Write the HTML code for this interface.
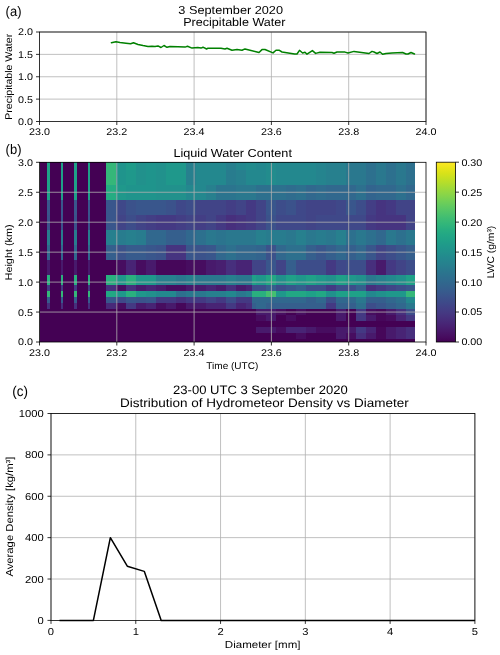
<!DOCTYPE html>
<html><head><meta charset="utf-8"><title>Figure</title>
<style>html,body{margin:0;padding:0;background:#fff;width:500px;height:655px;overflow:hidden}svg{display:block;will-change:transform;text-rendering:geometricPrecision;font-family:"Liberation Sans",sans-serif}</style>
</head><body>
<svg width="500" height="655" viewBox="0 0 500 655" font-family="Liberation Sans, sans-serif"><line x1="39.50" y1="99.12" x2="426.00" y2="99.12" stroke="#b0b0b0" stroke-width="0.80" />
<line x1="39.50" y1="76.75" x2="426.00" y2="76.75" stroke="#b0b0b0" stroke-width="0.80" />
<line x1="39.50" y1="54.38" x2="426.00" y2="54.38" stroke="#b0b0b0" stroke-width="0.80" />
<line x1="39.50" y1="32.00" x2="426.00" y2="32.00" stroke="#b0b0b0" stroke-width="0.80" />
<line x1="116.80" y1="32.00" x2="116.80" y2="121.50" stroke="#b0b0b0" stroke-width="0.80" />
<line x1="194.10" y1="32.00" x2="194.10" y2="121.50" stroke="#b0b0b0" stroke-width="0.80" />
<line x1="271.40" y1="32.00" x2="271.40" y2="121.50" stroke="#b0b0b0" stroke-width="0.80" />
<line x1="348.70" y1="32.00" x2="348.70" y2="121.50" stroke="#b0b0b0" stroke-width="0.80" />
<line x1="426.00" y1="32.00" x2="426.00" y2="121.50" stroke="#b0b0b0" stroke-width="0.80" />
<polyline fill="none" stroke="#008000" stroke-width="1.5" stroke-linejoin="round" stroke-linecap="round" points="111.4,42.7 115.9,41.7 120.0,42.6 126.0,43.3 130.6,43.8 133.5,42.8 138.0,44.5 143.0,45.6 148.0,46.5 152.0,46.2 155.0,46.4 158.0,45.9 161.0,47.5 164.0,45.5 167.0,47.3 170.0,46.5 178.0,46.8 185.0,47.1 187.5,46.3 192.0,48.1 197.8,47.6 201.0,48.1 203.0,47.2 206.6,49.0 208.0,48.2 221.0,48.2 225.0,49.0 227.0,48.2 232.0,50.2 237.0,49.6 242.0,50.3 245.0,48.9 259.0,52.5 262.0,49.6 265.0,49.5 273.0,52.9 276.0,50.2 279.0,50.2 282.0,52.0 294.6,54.0 297.0,54.0 299.5,50.3 302.6,53.0 305.0,52.3 307.0,54.2 312.4,50.6 315.6,53.4 320.0,52.2 332.0,52.5 334.0,53.3 337.0,52.0 345.0,52.1 348.0,53.0 354.0,51.4 369.0,53.5 372.0,51.4 374.0,52.0 377.0,53.5 380.0,52.0 382.6,54.3 386.0,53.4 392.0,52.9 402.6,52.5 406.0,54.0 408.0,54.0 411.0,52.5 414.5,54.0"/>
<rect x="39.50" y="32.00" width="386.50" height="89.50" fill="none" stroke="#000" stroke-width="0.8"/>
<line x1="36.00" y1="121.50" x2="39.50" y2="121.50" stroke="#000" stroke-width="0.80" />
<text x="32.90" y="124.95" font-size="9.78" text-anchor="end" textLength="14.95" lengthAdjust="spacingAndGlyphs" fill="#000" >0.0</text>
<line x1="36.00" y1="99.12" x2="39.50" y2="99.12" stroke="#000" stroke-width="0.80" />
<text x="32.90" y="102.58" font-size="9.78" text-anchor="end" textLength="14.95" lengthAdjust="spacingAndGlyphs" fill="#000" >0.5</text>
<line x1="36.00" y1="76.75" x2="39.50" y2="76.75" stroke="#000" stroke-width="0.80" />
<text x="32.90" y="80.20" font-size="9.78" text-anchor="end" textLength="14.95" lengthAdjust="spacingAndGlyphs" fill="#000" >1.0</text>
<line x1="36.00" y1="54.38" x2="39.50" y2="54.38" stroke="#000" stroke-width="0.80" />
<text x="32.90" y="57.83" font-size="9.78" text-anchor="end" textLength="14.95" lengthAdjust="spacingAndGlyphs" fill="#000" >1.5</text>
<line x1="36.00" y1="32.00" x2="39.50" y2="32.00" stroke="#000" stroke-width="0.80" />
<text x="32.90" y="35.45" font-size="9.78" text-anchor="end" textLength="14.95" lengthAdjust="spacingAndGlyphs" fill="#000" >2.0</text>
<line x1="39.50" y1="121.50" x2="39.50" y2="125.00" stroke="#000" stroke-width="0.80" />
<text x="39.50" y="135.00" font-size="9.78" text-anchor="middle" textLength="20.93" lengthAdjust="spacingAndGlyphs" fill="#000" >23.0</text>
<line x1="116.80" y1="121.50" x2="116.80" y2="125.00" stroke="#000" stroke-width="0.80" />
<text x="116.80" y="135.00" font-size="9.78" text-anchor="middle" textLength="20.93" lengthAdjust="spacingAndGlyphs" fill="#000" >23.2</text>
<line x1="194.10" y1="121.50" x2="194.10" y2="125.00" stroke="#000" stroke-width="0.80" />
<text x="194.10" y="135.00" font-size="9.78" text-anchor="middle" textLength="20.93" lengthAdjust="spacingAndGlyphs" fill="#000" >23.4</text>
<line x1="271.40" y1="121.50" x2="271.40" y2="125.00" stroke="#000" stroke-width="0.80" />
<text x="271.40" y="135.00" font-size="9.78" text-anchor="middle" textLength="20.93" lengthAdjust="spacingAndGlyphs" fill="#000" >23.6</text>
<line x1="348.70" y1="121.50" x2="348.70" y2="125.00" stroke="#000" stroke-width="0.80" />
<text x="348.70" y="135.00" font-size="9.78" text-anchor="middle" textLength="20.93" lengthAdjust="spacingAndGlyphs" fill="#000" >23.8</text>
<line x1="426.00" y1="121.50" x2="426.00" y2="125.00" stroke="#000" stroke-width="0.80" />
<text x="426.00" y="135.00" font-size="9.78" text-anchor="middle" textLength="20.93" lengthAdjust="spacingAndGlyphs" fill="#000" >24.0</text>
<text x="12.10" y="76.80" font-size="9.78" text-anchor="middle" textLength="85.89" lengthAdjust="spacingAndGlyphs" transform="rotate(-90 12.10 76.80)" fill="#000" >Precipitable Water</text>
<text x="230.70" y="13.80" font-size="11.65" text-anchor="middle" textLength="104.66" lengthAdjust="spacingAndGlyphs" fill="#000" >3 September 2020</text>
<text x="234.35" y="26.00" font-size="11.65" text-anchor="middle" textLength="102.33" lengthAdjust="spacingAndGlyphs" fill="#000" >Precipitable Water</text>
<text x="5.6" y="15.9" font-size="13.8" textLength="15.89" lengthAdjust="spacingAndGlyphs">(a)</text>
<g shape-rendering="crispEdges">
<rect x="39.50" y="162.30" width="375.50" height="179.70" fill="#440154"/>
<rect x="47.20" y="162.30" width="2.70" height="7.49" fill="#1fa188"/>
<rect x="47.20" y="169.79" width="2.70" height="14.98" fill="#1fa188"/>
<rect x="47.20" y="184.76" width="2.70" height="14.97" fill="#1fa188"/>
<rect x="47.20" y="199.74" width="2.70" height="14.97" fill="#39568c"/>
<rect x="47.20" y="214.71" width="2.70" height="14.97" fill="#3b528b"/>
<rect x="47.20" y="229.69" width="2.70" height="14.98" fill="#287c8e"/>
<rect x="47.20" y="244.66" width="2.70" height="14.97" fill="#31688e"/>
<rect x="47.20" y="259.64" width="2.70" height="14.98" fill="#481a6c"/>
<rect x="47.20" y="274.61" width="2.70" height="10.48" fill="#2ab07f"/>
<rect x="47.20" y="285.10" width="2.70" height="5.99" fill="#443983"/>
<rect x="47.20" y="291.08" width="2.70" height="5.99" fill="#35b779"/>
<rect x="47.20" y="297.07" width="2.70" height="5.99" fill="#375b8d"/>
<rect x="47.20" y="303.06" width="2.70" height="5.99" fill="#472f7d"/>
<rect x="60.70" y="162.30" width="2.60" height="7.49" fill="#1fa188"/>
<rect x="60.70" y="169.79" width="2.60" height="14.98" fill="#1fa188"/>
<rect x="60.70" y="184.76" width="2.60" height="14.97" fill="#1fa188"/>
<rect x="60.70" y="199.74" width="2.60" height="14.97" fill="#39568c"/>
<rect x="60.70" y="214.71" width="2.60" height="14.97" fill="#3b528b"/>
<rect x="60.70" y="229.69" width="2.60" height="14.98" fill="#287c8e"/>
<rect x="60.70" y="244.66" width="2.60" height="14.97" fill="#31688e"/>
<rect x="60.70" y="259.64" width="2.60" height="14.98" fill="#481a6c"/>
<rect x="60.70" y="274.61" width="2.60" height="10.48" fill="#2ab07f"/>
<rect x="60.70" y="285.10" width="2.60" height="5.99" fill="#443983"/>
<rect x="60.70" y="291.08" width="2.60" height="5.99" fill="#35b779"/>
<rect x="60.70" y="297.07" width="2.60" height="5.99" fill="#375b8d"/>
<rect x="60.70" y="303.06" width="2.60" height="5.99" fill="#472f7d"/>
<rect x="74.00" y="162.30" width="3.00" height="7.49" fill="#1fa188"/>
<rect x="74.00" y="169.79" width="3.00" height="14.98" fill="#1fa188"/>
<rect x="74.00" y="184.76" width="3.00" height="14.97" fill="#1fa188"/>
<rect x="74.00" y="199.74" width="3.00" height="14.97" fill="#39568c"/>
<rect x="74.00" y="214.71" width="3.00" height="14.97" fill="#3b528b"/>
<rect x="74.00" y="229.69" width="3.00" height="14.98" fill="#287c8e"/>
<rect x="74.00" y="244.66" width="3.00" height="14.97" fill="#31688e"/>
<rect x="74.00" y="259.64" width="3.00" height="14.98" fill="#481a6c"/>
<rect x="74.00" y="274.61" width="3.00" height="10.48" fill="#2ab07f"/>
<rect x="74.00" y="285.10" width="3.00" height="5.99" fill="#443983"/>
<rect x="74.00" y="291.08" width="3.00" height="5.99" fill="#35b779"/>
<rect x="74.00" y="297.07" width="3.00" height="5.99" fill="#375b8d"/>
<rect x="74.00" y="303.06" width="3.00" height="5.99" fill="#472f7d"/>
<rect x="87.50" y="162.30" width="2.60" height="7.49" fill="#1fa188"/>
<rect x="87.50" y="169.79" width="2.60" height="14.98" fill="#1fa188"/>
<rect x="87.50" y="184.76" width="2.60" height="14.97" fill="#1fa188"/>
<rect x="87.50" y="199.74" width="2.60" height="14.97" fill="#39568c"/>
<rect x="87.50" y="214.71" width="2.60" height="14.97" fill="#3b528b"/>
<rect x="87.50" y="229.69" width="2.60" height="14.98" fill="#287c8e"/>
<rect x="87.50" y="244.66" width="2.60" height="14.97" fill="#31688e"/>
<rect x="87.50" y="259.64" width="2.60" height="14.98" fill="#481a6c"/>
<rect x="87.50" y="274.61" width="2.60" height="10.48" fill="#2ab07f"/>
<rect x="87.50" y="285.10" width="2.60" height="5.99" fill="#443983"/>
<rect x="87.50" y="291.08" width="2.60" height="5.99" fill="#35b779"/>
<rect x="87.50" y="297.07" width="2.60" height="5.99" fill="#375b8d"/>
<rect x="87.50" y="303.06" width="2.60" height="5.99" fill="#472f7d"/>
<rect x="106.00" y="162.30" width="10.00" height="7.49" fill="#35b779"/>
<rect x="116.00" y="162.30" width="10.00" height="7.49" fill="#1f948c"/>
<rect x="126.00" y="162.30" width="10.00" height="7.49" fill="#1e9c89"/>
<rect x="136.00" y="162.30" width="10.00" height="7.49" fill="#21918c"/>
<rect x="146.00" y="162.30" width="10.00" height="7.49" fill="#1f948c"/>
<rect x="156.00" y="162.30" width="10.00" height="7.49" fill="#21918c"/>
<rect x="166.00" y="162.30" width="10.00" height="7.49" fill="#1f988b"/>
<rect x="176.00" y="162.30" width="10.00" height="7.49" fill="#1f988b"/>
<rect x="186.00" y="162.30" width="10.00" height="7.49" fill="#27808e"/>
<rect x="196.00" y="162.30" width="10.00" height="7.49" fill="#23888e"/>
<rect x="206.00" y="162.30" width="10.00" height="7.49" fill="#23888e"/>
<rect x="216.00" y="162.30" width="10.00" height="7.49" fill="#23888e"/>
<rect x="226.00" y="162.30" width="10.00" height="7.49" fill="#27808e"/>
<rect x="236.00" y="162.30" width="10.00" height="7.49" fill="#23888e"/>
<rect x="246.00" y="162.30" width="10.00" height="7.49" fill="#228c8d"/>
<rect x="256.00" y="162.30" width="10.00" height="7.49" fill="#23888e"/>
<rect x="266.00" y="162.30" width="10.00" height="7.49" fill="#228c8d"/>
<rect x="276.00" y="162.30" width="10.00" height="7.49" fill="#23888e"/>
<rect x="286.00" y="162.30" width="10.00" height="7.49" fill="#23888e"/>
<rect x="296.00" y="162.30" width="10.00" height="7.49" fill="#23888e"/>
<rect x="306.00" y="162.30" width="10.00" height="7.49" fill="#23888e"/>
<rect x="316.00" y="162.30" width="10.00" height="7.49" fill="#25848e"/>
<rect x="326.00" y="162.30" width="10.00" height="7.49" fill="#27808e"/>
<rect x="336.00" y="162.30" width="10.00" height="7.49" fill="#27808e"/>
<rect x="346.00" y="162.30" width="10.00" height="7.49" fill="#2a788e"/>
<rect x="356.00" y="162.30" width="10.00" height="7.49" fill="#2a788e"/>
<rect x="366.00" y="162.30" width="10.00" height="7.49" fill="#2d708e"/>
<rect x="376.00" y="162.30" width="10.00" height="7.49" fill="#2a788e"/>
<rect x="386.00" y="162.30" width="10.00" height="7.49" fill="#2d708e"/>
<rect x="396.00" y="162.30" width="10.00" height="7.49" fill="#2a788e"/>
<rect x="406.00" y="162.30" width="9.00" height="7.49" fill="#2d708e"/>
<rect x="106.00" y="169.79" width="10.00" height="14.98" fill="#35b779"/>
<rect x="116.00" y="169.79" width="10.00" height="14.98" fill="#1f948c"/>
<rect x="126.00" y="169.79" width="10.00" height="14.98" fill="#1f988b"/>
<rect x="136.00" y="169.79" width="10.00" height="14.98" fill="#21918c"/>
<rect x="146.00" y="169.79" width="10.00" height="14.98" fill="#1f948c"/>
<rect x="156.00" y="169.79" width="10.00" height="14.98" fill="#21918c"/>
<rect x="166.00" y="169.79" width="10.00" height="14.98" fill="#1f988b"/>
<rect x="176.00" y="169.79" width="10.00" height="14.98" fill="#1f988b"/>
<rect x="186.00" y="169.79" width="10.00" height="14.98" fill="#27808e"/>
<rect x="196.00" y="169.79" width="10.00" height="14.98" fill="#23888e"/>
<rect x="206.00" y="169.79" width="10.00" height="14.98" fill="#23888e"/>
<rect x="216.00" y="169.79" width="10.00" height="14.98" fill="#23888e"/>
<rect x="226.00" y="169.79" width="10.00" height="14.98" fill="#287c8e"/>
<rect x="236.00" y="169.79" width="10.00" height="14.98" fill="#27808e"/>
<rect x="246.00" y="169.79" width="10.00" height="14.98" fill="#23888e"/>
<rect x="256.00" y="169.79" width="10.00" height="14.98" fill="#23888e"/>
<rect x="266.00" y="169.79" width="10.00" height="14.98" fill="#228c8d"/>
<rect x="276.00" y="169.79" width="10.00" height="14.98" fill="#23888e"/>
<rect x="286.00" y="169.79" width="10.00" height="14.98" fill="#23888e"/>
<rect x="296.00" y="169.79" width="10.00" height="14.98" fill="#23888e"/>
<rect x="306.00" y="169.79" width="10.00" height="14.98" fill="#23888e"/>
<rect x="316.00" y="169.79" width="10.00" height="14.98" fill="#25848e"/>
<rect x="326.00" y="169.79" width="10.00" height="14.98" fill="#27808e"/>
<rect x="336.00" y="169.79" width="10.00" height="14.98" fill="#27808e"/>
<rect x="346.00" y="169.79" width="10.00" height="14.98" fill="#2a788e"/>
<rect x="356.00" y="169.79" width="10.00" height="14.98" fill="#2a788e"/>
<rect x="366.00" y="169.79" width="10.00" height="14.98" fill="#2d708e"/>
<rect x="376.00" y="169.79" width="10.00" height="14.98" fill="#2a788e"/>
<rect x="386.00" y="169.79" width="10.00" height="14.98" fill="#2d708e"/>
<rect x="396.00" y="169.79" width="10.00" height="14.98" fill="#2a788e"/>
<rect x="406.00" y="169.79" width="9.00" height="14.98" fill="#2d708e"/>
<rect x="106.00" y="184.76" width="10.00" height="14.97" fill="#25ac82"/>
<rect x="116.00" y="184.76" width="10.00" height="14.97" fill="#1f988b"/>
<rect x="126.00" y="184.76" width="10.00" height="14.97" fill="#1f948c"/>
<rect x="136.00" y="184.76" width="10.00" height="14.97" fill="#1f948c"/>
<rect x="146.00" y="184.76" width="10.00" height="14.97" fill="#1f948c"/>
<rect x="156.00" y="184.76" width="10.00" height="14.97" fill="#21918c"/>
<rect x="166.00" y="184.76" width="10.00" height="14.97" fill="#21918c"/>
<rect x="176.00" y="184.76" width="10.00" height="14.97" fill="#21918c"/>
<rect x="186.00" y="184.76" width="10.00" height="14.97" fill="#23888e"/>
<rect x="196.00" y="184.76" width="10.00" height="14.97" fill="#23888e"/>
<rect x="206.00" y="184.76" width="10.00" height="14.97" fill="#27808e"/>
<rect x="216.00" y="184.76" width="10.00" height="14.97" fill="#2b748e"/>
<rect x="226.00" y="184.76" width="10.00" height="14.97" fill="#2b748e"/>
<rect x="236.00" y="184.76" width="10.00" height="14.97" fill="#2a788e"/>
<rect x="246.00" y="184.76" width="10.00" height="14.97" fill="#2a788e"/>
<rect x="256.00" y="184.76" width="10.00" height="14.97" fill="#2d708e"/>
<rect x="266.00" y="184.76" width="10.00" height="14.97" fill="#2d708e"/>
<rect x="276.00" y="184.76" width="10.00" height="14.97" fill="#2d708e"/>
<rect x="286.00" y="184.76" width="10.00" height="14.97" fill="#2f6c8e"/>
<rect x="296.00" y="184.76" width="10.00" height="14.97" fill="#2d708e"/>
<rect x="306.00" y="184.76" width="10.00" height="14.97" fill="#31688e"/>
<rect x="316.00" y="184.76" width="10.00" height="14.97" fill="#2f6c8e"/>
<rect x="326.00" y="184.76" width="10.00" height="14.97" fill="#31688e"/>
<rect x="336.00" y="184.76" width="10.00" height="14.97" fill="#31688e"/>
<rect x="346.00" y="184.76" width="10.00" height="14.97" fill="#31688e"/>
<rect x="356.00" y="184.76" width="10.00" height="14.97" fill="#2d708e"/>
<rect x="366.00" y="184.76" width="10.00" height="14.97" fill="#32648e"/>
<rect x="376.00" y="184.76" width="10.00" height="14.97" fill="#31688e"/>
<rect x="386.00" y="184.76" width="10.00" height="14.97" fill="#31688e"/>
<rect x="396.00" y="184.76" width="10.00" height="14.97" fill="#2d708e"/>
<rect x="406.00" y="184.76" width="9.00" height="14.97" fill="#31688e"/>
<rect x="106.00" y="199.74" width="10.00" height="14.97" fill="#39568c"/>
<rect x="116.00" y="199.74" width="10.00" height="14.97" fill="#3f4889"/>
<rect x="126.00" y="199.74" width="10.00" height="14.97" fill="#3b528b"/>
<rect x="136.00" y="199.74" width="10.00" height="14.97" fill="#39568c"/>
<rect x="146.00" y="199.74" width="10.00" height="14.97" fill="#39568c"/>
<rect x="156.00" y="199.74" width="10.00" height="14.97" fill="#39568c"/>
<rect x="166.00" y="199.74" width="10.00" height="14.97" fill="#3b528b"/>
<rect x="176.00" y="199.74" width="10.00" height="14.97" fill="#3f4889"/>
<rect x="186.00" y="199.74" width="10.00" height="14.97" fill="#3d4d8a"/>
<rect x="196.00" y="199.74" width="10.00" height="14.97" fill="#414487"/>
<rect x="206.00" y="199.74" width="10.00" height="14.97" fill="#414487"/>
<rect x="216.00" y="199.74" width="10.00" height="14.97" fill="#414487"/>
<rect x="226.00" y="199.74" width="10.00" height="14.97" fill="#433e85"/>
<rect x="236.00" y="199.74" width="10.00" height="14.97" fill="#414487"/>
<rect x="246.00" y="199.74" width="10.00" height="14.97" fill="#443983"/>
<rect x="256.00" y="199.74" width="10.00" height="14.97" fill="#414487"/>
<rect x="266.00" y="199.74" width="10.00" height="14.97" fill="#39568c"/>
<rect x="276.00" y="199.74" width="10.00" height="14.97" fill="#3d4d8a"/>
<rect x="286.00" y="199.74" width="10.00" height="14.97" fill="#3b528b"/>
<rect x="296.00" y="199.74" width="10.00" height="14.97" fill="#3f4889"/>
<rect x="306.00" y="199.74" width="10.00" height="14.97" fill="#414487"/>
<rect x="316.00" y="199.74" width="10.00" height="14.97" fill="#414487"/>
<rect x="326.00" y="199.74" width="10.00" height="14.97" fill="#414487"/>
<rect x="336.00" y="199.74" width="10.00" height="14.97" fill="#3f4889"/>
<rect x="346.00" y="199.74" width="10.00" height="14.97" fill="#39568c"/>
<rect x="356.00" y="199.74" width="10.00" height="14.97" fill="#3d4d8a"/>
<rect x="366.00" y="199.74" width="10.00" height="14.97" fill="#433e85"/>
<rect x="376.00" y="199.74" width="10.00" height="14.97" fill="#463480"/>
<rect x="386.00" y="199.74" width="10.00" height="14.97" fill="#443983"/>
<rect x="396.00" y="199.74" width="10.00" height="14.97" fill="#414487"/>
<rect x="406.00" y="199.74" width="9.00" height="14.97" fill="#414487"/>
<rect x="106.00" y="214.71" width="10.00" height="14.97" fill="#39568c"/>
<rect x="116.00" y="214.71" width="10.00" height="14.97" fill="#414487"/>
<rect x="126.00" y="214.71" width="10.00" height="14.97" fill="#3d4d8a"/>
<rect x="136.00" y="214.71" width="10.00" height="14.97" fill="#414487"/>
<rect x="146.00" y="214.71" width="10.00" height="14.97" fill="#433e85"/>
<rect x="156.00" y="214.71" width="10.00" height="14.97" fill="#443983"/>
<rect x="166.00" y="214.71" width="10.00" height="14.97" fill="#443983"/>
<rect x="176.00" y="214.71" width="10.00" height="14.97" fill="#433e85"/>
<rect x="186.00" y="214.71" width="10.00" height="14.97" fill="#414487"/>
<rect x="196.00" y="214.71" width="10.00" height="14.97" fill="#433e85"/>
<rect x="206.00" y="214.71" width="10.00" height="14.97" fill="#414487"/>
<rect x="216.00" y="214.71" width="10.00" height="14.97" fill="#443983"/>
<rect x="226.00" y="214.71" width="10.00" height="14.97" fill="#472f7d"/>
<rect x="236.00" y="214.71" width="10.00" height="14.97" fill="#463480"/>
<rect x="246.00" y="214.71" width="10.00" height="14.97" fill="#443983"/>
<rect x="256.00" y="214.71" width="10.00" height="14.97" fill="#414487"/>
<rect x="266.00" y="214.71" width="10.00" height="14.97" fill="#3b528b"/>
<rect x="276.00" y="214.71" width="10.00" height="14.97" fill="#3f4889"/>
<rect x="286.00" y="214.71" width="10.00" height="14.97" fill="#3f4889"/>
<rect x="296.00" y="214.71" width="10.00" height="14.97" fill="#3f4889"/>
<rect x="306.00" y="214.71" width="10.00" height="14.97" fill="#414487"/>
<rect x="316.00" y="214.71" width="10.00" height="14.97" fill="#3f4889"/>
<rect x="326.00" y="214.71" width="10.00" height="14.97" fill="#3f4889"/>
<rect x="336.00" y="214.71" width="10.00" height="14.97" fill="#3f4889"/>
<rect x="346.00" y="214.71" width="10.00" height="14.97" fill="#3f4889"/>
<rect x="356.00" y="214.71" width="10.00" height="14.97" fill="#3f4889"/>
<rect x="366.00" y="214.71" width="10.00" height="14.97" fill="#443983"/>
<rect x="376.00" y="214.71" width="10.00" height="14.97" fill="#463480"/>
<rect x="386.00" y="214.71" width="10.00" height="14.97" fill="#463480"/>
<rect x="396.00" y="214.71" width="10.00" height="14.97" fill="#463480"/>
<rect x="406.00" y="214.71" width="9.00" height="14.97" fill="#414487"/>
<rect x="106.00" y="229.69" width="10.00" height="14.98" fill="#27808e"/>
<rect x="116.00" y="229.69" width="10.00" height="14.98" fill="#287c8e"/>
<rect x="126.00" y="229.69" width="10.00" height="14.98" fill="#27808e"/>
<rect x="136.00" y="229.69" width="10.00" height="14.98" fill="#287c8e"/>
<rect x="146.00" y="229.69" width="10.00" height="14.98" fill="#31688e"/>
<rect x="156.00" y="229.69" width="10.00" height="14.98" fill="#31688e"/>
<rect x="166.00" y="229.69" width="10.00" height="14.98" fill="#355f8d"/>
<rect x="176.00" y="229.69" width="10.00" height="14.98" fill="#355f8d"/>
<rect x="186.00" y="229.69" width="10.00" height="14.98" fill="#31688e"/>
<rect x="196.00" y="229.69" width="10.00" height="14.98" fill="#2d708e"/>
<rect x="206.00" y="229.69" width="10.00" height="14.98" fill="#2a788e"/>
<rect x="216.00" y="229.69" width="10.00" height="14.98" fill="#2b748e"/>
<rect x="226.00" y="229.69" width="10.00" height="14.98" fill="#2a788e"/>
<rect x="236.00" y="229.69" width="10.00" height="14.98" fill="#2a788e"/>
<rect x="246.00" y="229.69" width="10.00" height="14.98" fill="#2a788e"/>
<rect x="256.00" y="229.69" width="10.00" height="14.98" fill="#27808e"/>
<rect x="266.00" y="229.69" width="10.00" height="14.98" fill="#287c8e"/>
<rect x="276.00" y="229.69" width="10.00" height="14.98" fill="#287c8e"/>
<rect x="286.00" y="229.69" width="10.00" height="14.98" fill="#2a788e"/>
<rect x="296.00" y="229.69" width="10.00" height="14.98" fill="#27808e"/>
<rect x="306.00" y="229.69" width="10.00" height="14.98" fill="#2a788e"/>
<rect x="316.00" y="229.69" width="10.00" height="14.98" fill="#287c8e"/>
<rect x="326.00" y="229.69" width="10.00" height="14.98" fill="#2a788e"/>
<rect x="336.00" y="229.69" width="10.00" height="14.98" fill="#27808e"/>
<rect x="346.00" y="229.69" width="10.00" height="14.98" fill="#2d708e"/>
<rect x="356.00" y="229.69" width="10.00" height="14.98" fill="#2a788e"/>
<rect x="366.00" y="229.69" width="10.00" height="14.98" fill="#2d708e"/>
<rect x="376.00" y="229.69" width="10.00" height="14.98" fill="#31688e"/>
<rect x="386.00" y="229.69" width="10.00" height="14.98" fill="#2a788e"/>
<rect x="396.00" y="229.69" width="10.00" height="14.98" fill="#2d708e"/>
<rect x="406.00" y="229.69" width="9.00" height="14.98" fill="#2a788e"/>
<rect x="106.00" y="244.66" width="10.00" height="14.97" fill="#355f8d"/>
<rect x="116.00" y="244.66" width="10.00" height="14.97" fill="#3b528b"/>
<rect x="126.00" y="244.66" width="10.00" height="14.97" fill="#375b8d"/>
<rect x="136.00" y="244.66" width="10.00" height="14.97" fill="#375b8d"/>
<rect x="146.00" y="244.66" width="10.00" height="14.97" fill="#39568c"/>
<rect x="156.00" y="244.66" width="10.00" height="14.97" fill="#3b528b"/>
<rect x="166.00" y="244.66" width="10.00" height="14.97" fill="#463480"/>
<rect x="176.00" y="244.66" width="10.00" height="14.97" fill="#463480"/>
<rect x="186.00" y="244.66" width="10.00" height="14.97" fill="#39568c"/>
<rect x="196.00" y="244.66" width="10.00" height="14.97" fill="#3b528b"/>
<rect x="206.00" y="244.66" width="10.00" height="14.97" fill="#39568c"/>
<rect x="216.00" y="244.66" width="10.00" height="14.97" fill="#31688e"/>
<rect x="226.00" y="244.66" width="10.00" height="14.97" fill="#2d708e"/>
<rect x="236.00" y="244.66" width="10.00" height="14.97" fill="#31688e"/>
<rect x="246.00" y="244.66" width="10.00" height="14.97" fill="#31688e"/>
<rect x="256.00" y="244.66" width="10.00" height="14.97" fill="#32648e"/>
<rect x="266.00" y="244.66" width="10.00" height="14.97" fill="#3b528b"/>
<rect x="276.00" y="244.66" width="10.00" height="14.97" fill="#31688e"/>
<rect x="286.00" y="244.66" width="10.00" height="14.97" fill="#2d708e"/>
<rect x="296.00" y="244.66" width="10.00" height="14.97" fill="#2d708e"/>
<rect x="306.00" y="244.66" width="10.00" height="14.97" fill="#355f8d"/>
<rect x="316.00" y="244.66" width="10.00" height="14.97" fill="#39568c"/>
<rect x="326.00" y="244.66" width="10.00" height="14.97" fill="#355f8d"/>
<rect x="336.00" y="244.66" width="10.00" height="14.97" fill="#31688e"/>
<rect x="346.00" y="244.66" width="10.00" height="14.97" fill="#355f8d"/>
<rect x="356.00" y="244.66" width="10.00" height="14.97" fill="#31688e"/>
<rect x="366.00" y="244.66" width="10.00" height="14.97" fill="#39568c"/>
<rect x="376.00" y="244.66" width="10.00" height="14.97" fill="#414487"/>
<rect x="386.00" y="244.66" width="10.00" height="14.97" fill="#3d4d8a"/>
<rect x="396.00" y="244.66" width="10.00" height="14.97" fill="#39568c"/>
<rect x="406.00" y="244.66" width="9.00" height="14.97" fill="#355f8d"/>
<rect x="116.00" y="259.64" width="10.00" height="14.98" fill="#470d60"/>
<rect x="126.00" y="259.64" width="10.00" height="14.98" fill="#482475"/>
<rect x="136.00" y="259.64" width="10.00" height="14.98" fill="#470d60"/>
<rect x="146.00" y="259.64" width="10.00" height="14.98" fill="#481a6c"/>
<rect x="156.00" y="259.64" width="10.00" height="14.98" fill="#46075a"/>
<rect x="166.00" y="259.64" width="10.00" height="14.98" fill="#46075a"/>
<rect x="176.00" y="259.64" width="10.00" height="14.98" fill="#46075a"/>
<rect x="186.00" y="259.64" width="10.00" height="14.98" fill="#470d60"/>
<rect x="196.00" y="259.64" width="10.00" height="14.98" fill="#470d60"/>
<rect x="206.00" y="259.64" width="10.00" height="14.98" fill="#481a6c"/>
<rect x="216.00" y="259.64" width="10.00" height="14.98" fill="#481f70"/>
<rect x="226.00" y="259.64" width="10.00" height="14.98" fill="#472f7d"/>
<rect x="236.00" y="259.64" width="10.00" height="14.98" fill="#482475"/>
<rect x="246.00" y="259.64" width="10.00" height="14.98" fill="#463480"/>
<rect x="256.00" y="259.64" width="10.00" height="14.98" fill="#414487"/>
<rect x="266.00" y="259.64" width="10.00" height="14.98" fill="#39568c"/>
<rect x="276.00" y="259.64" width="10.00" height="14.98" fill="#414487"/>
<rect x="286.00" y="259.64" width="10.00" height="14.98" fill="#355f8d"/>
<rect x="296.00" y="259.64" width="10.00" height="14.98" fill="#3d4d8a"/>
<rect x="306.00" y="259.64" width="10.00" height="14.98" fill="#3d4d8a"/>
<rect x="316.00" y="259.64" width="10.00" height="14.98" fill="#3d4d8a"/>
<rect x="326.00" y="259.64" width="10.00" height="14.98" fill="#443983"/>
<rect x="336.00" y="259.64" width="10.00" height="14.98" fill="#3f4889"/>
<rect x="346.00" y="259.64" width="10.00" height="14.98" fill="#3d4d8a"/>
<rect x="356.00" y="259.64" width="10.00" height="14.98" fill="#3d4d8a"/>
<rect x="366.00" y="259.64" width="10.00" height="14.98" fill="#472f7d"/>
<rect x="376.00" y="259.64" width="10.00" height="14.98" fill="#481a6c"/>
<rect x="386.00" y="259.64" width="10.00" height="14.98" fill="#443983"/>
<rect x="396.00" y="259.64" width="10.00" height="14.98" fill="#414487"/>
<rect x="406.00" y="259.64" width="9.00" height="14.98" fill="#3d4d8a"/>
<rect x="106.00" y="274.61" width="10.00" height="10.48" fill="#2ab07f"/>
<rect x="116.00" y="274.61" width="10.00" height="10.48" fill="#1f988b"/>
<rect x="126.00" y="274.61" width="10.00" height="10.48" fill="#2ab07f"/>
<rect x="136.00" y="274.61" width="10.00" height="10.48" fill="#1f988b"/>
<rect x="146.00" y="274.61" width="10.00" height="10.48" fill="#1f988b"/>
<rect x="156.00" y="274.61" width="10.00" height="10.48" fill="#27808e"/>
<rect x="166.00" y="274.61" width="10.00" height="10.48" fill="#27808e"/>
<rect x="176.00" y="274.61" width="10.00" height="10.48" fill="#2a788e"/>
<rect x="186.00" y="274.61" width="10.00" height="10.48" fill="#27808e"/>
<rect x="196.00" y="274.61" width="10.00" height="10.48" fill="#2a788e"/>
<rect x="206.00" y="274.61" width="10.00" height="10.48" fill="#2a788e"/>
<rect x="216.00" y="274.61" width="10.00" height="10.48" fill="#2a788e"/>
<rect x="226.00" y="274.61" width="10.00" height="10.48" fill="#27808e"/>
<rect x="236.00" y="274.61" width="10.00" height="10.48" fill="#2a788e"/>
<rect x="246.00" y="274.61" width="10.00" height="10.48" fill="#23888e"/>
<rect x="256.00" y="274.61" width="10.00" height="10.48" fill="#1f988b"/>
<rect x="266.00" y="274.61" width="10.00" height="10.48" fill="#22a884"/>
<rect x="276.00" y="274.61" width="10.00" height="10.48" fill="#21918c"/>
<rect x="286.00" y="274.61" width="10.00" height="10.48" fill="#1fa188"/>
<rect x="296.00" y="274.61" width="10.00" height="10.48" fill="#1f988b"/>
<rect x="306.00" y="274.61" width="10.00" height="10.48" fill="#1fa188"/>
<rect x="316.00" y="274.61" width="10.00" height="10.48" fill="#1f988b"/>
<rect x="326.00" y="274.61" width="10.00" height="10.48" fill="#21918c"/>
<rect x="336.00" y="274.61" width="10.00" height="10.48" fill="#1fa188"/>
<rect x="346.00" y="274.61" width="10.00" height="10.48" fill="#1f988b"/>
<rect x="356.00" y="274.61" width="10.00" height="10.48" fill="#21918c"/>
<rect x="366.00" y="274.61" width="10.00" height="10.48" fill="#2a788e"/>
<rect x="376.00" y="274.61" width="10.00" height="10.48" fill="#27808e"/>
<rect x="386.00" y="274.61" width="10.00" height="10.48" fill="#23888e"/>
<rect x="396.00" y="274.61" width="10.00" height="10.48" fill="#21918c"/>
<rect x="406.00" y="274.61" width="9.00" height="10.48" fill="#1fa188"/>
<rect x="106.00" y="285.10" width="10.00" height="5.99" fill="#472f7d"/>
<rect x="116.00" y="285.10" width="10.00" height="5.99" fill="#470d60"/>
<rect x="126.00" y="285.10" width="10.00" height="5.99" fill="#472f7d"/>
<rect x="136.00" y="285.10" width="10.00" height="5.99" fill="#481a6c"/>
<rect x="146.00" y="285.10" width="10.00" height="5.99" fill="#482475"/>
<rect x="156.00" y="285.10" width="10.00" height="5.99" fill="#481a6c"/>
<rect x="166.00" y="285.10" width="10.00" height="5.99" fill="#470d60"/>
<rect x="176.00" y="285.10" width="10.00" height="5.99" fill="#470d60"/>
<rect x="186.00" y="285.10" width="10.00" height="5.99" fill="#481a6c"/>
<rect x="196.00" y="285.10" width="10.00" height="5.99" fill="#481a6c"/>
<rect x="206.00" y="285.10" width="10.00" height="5.99" fill="#482475"/>
<rect x="216.00" y="285.10" width="10.00" height="5.99" fill="#481a6c"/>
<rect x="226.00" y="285.10" width="10.00" height="5.99" fill="#472f7d"/>
<rect x="236.00" y="285.10" width="10.00" height="5.99" fill="#481a6c"/>
<rect x="246.00" y="285.10" width="10.00" height="5.99" fill="#472f7d"/>
<rect x="256.00" y="285.10" width="10.00" height="5.99" fill="#3d4d8a"/>
<rect x="266.00" y="285.10" width="10.00" height="5.99" fill="#355f8d"/>
<rect x="276.00" y="285.10" width="10.00" height="5.99" fill="#3d4d8a"/>
<rect x="286.00" y="285.10" width="10.00" height="5.99" fill="#39568c"/>
<rect x="296.00" y="285.10" width="10.00" height="5.99" fill="#355f8d"/>
<rect x="306.00" y="285.10" width="10.00" height="5.99" fill="#3d4d8a"/>
<rect x="316.00" y="285.10" width="10.00" height="5.99" fill="#3d4d8a"/>
<rect x="326.00" y="285.10" width="10.00" height="5.99" fill="#443983"/>
<rect x="336.00" y="285.10" width="10.00" height="5.99" fill="#3d4d8a"/>
<rect x="346.00" y="285.10" width="10.00" height="5.99" fill="#3d4d8a"/>
<rect x="356.00" y="285.10" width="10.00" height="5.99" fill="#355f8d"/>
<rect x="366.00" y="285.10" width="10.00" height="5.99" fill="#472f7d"/>
<rect x="376.00" y="285.10" width="10.00" height="5.99" fill="#443983"/>
<rect x="386.00" y="285.10" width="10.00" height="5.99" fill="#414487"/>
<rect x="396.00" y="285.10" width="10.00" height="5.99" fill="#3d4d8a"/>
<rect x="406.00" y="285.10" width="9.00" height="5.99" fill="#39568c"/>
<rect x="106.00" y="291.08" width="10.00" height="5.99" fill="#22a884"/>
<rect x="116.00" y="291.08" width="10.00" height="5.99" fill="#1f988b"/>
<rect x="126.00" y="291.08" width="10.00" height="5.99" fill="#2ab07f"/>
<rect x="136.00" y="291.08" width="10.00" height="5.99" fill="#1f988b"/>
<rect x="146.00" y="291.08" width="10.00" height="5.99" fill="#21918c"/>
<rect x="156.00" y="291.08" width="10.00" height="5.99" fill="#23888e"/>
<rect x="166.00" y="291.08" width="10.00" height="5.99" fill="#23888e"/>
<rect x="176.00" y="291.08" width="10.00" height="5.99" fill="#2d708e"/>
<rect x="186.00" y="291.08" width="10.00" height="5.99" fill="#2a788e"/>
<rect x="196.00" y="291.08" width="10.00" height="5.99" fill="#2a788e"/>
<rect x="206.00" y="291.08" width="10.00" height="5.99" fill="#27808e"/>
<rect x="216.00" y="291.08" width="10.00" height="5.99" fill="#27808e"/>
<rect x="226.00" y="291.08" width="10.00" height="5.99" fill="#23888e"/>
<rect x="236.00" y="291.08" width="10.00" height="5.99" fill="#2a788e"/>
<rect x="246.00" y="291.08" width="10.00" height="5.99" fill="#1f988b"/>
<rect x="256.00" y="291.08" width="10.00" height="5.99" fill="#2ab07f"/>
<rect x="266.00" y="291.08" width="10.00" height="5.99" fill="#44bf70"/>
<rect x="276.00" y="291.08" width="10.00" height="5.99" fill="#1f988b"/>
<rect x="286.00" y="291.08" width="10.00" height="5.99" fill="#22a884"/>
<rect x="296.00" y="291.08" width="10.00" height="5.99" fill="#22a884"/>
<rect x="306.00" y="291.08" width="10.00" height="5.99" fill="#1fa188"/>
<rect x="316.00" y="291.08" width="10.00" height="5.99" fill="#22a884"/>
<rect x="326.00" y="291.08" width="10.00" height="5.99" fill="#21918c"/>
<rect x="336.00" y="291.08" width="10.00" height="5.99" fill="#1fa188"/>
<rect x="346.00" y="291.08" width="10.00" height="5.99" fill="#1fa188"/>
<rect x="356.00" y="291.08" width="10.00" height="5.99" fill="#1fa188"/>
<rect x="366.00" y="291.08" width="10.00" height="5.99" fill="#23888e"/>
<rect x="376.00" y="291.08" width="10.00" height="5.99" fill="#21918c"/>
<rect x="386.00" y="291.08" width="10.00" height="5.99" fill="#1f988b"/>
<rect x="396.00" y="291.08" width="10.00" height="5.99" fill="#1f988b"/>
<rect x="406.00" y="291.08" width="9.00" height="5.99" fill="#35b779"/>
<rect x="106.00" y="297.07" width="10.00" height="5.99" fill="#39568c"/>
<rect x="116.00" y="297.07" width="10.00" height="5.99" fill="#3f4889"/>
<rect x="126.00" y="297.07" width="10.00" height="5.99" fill="#39568c"/>
<rect x="136.00" y="297.07" width="10.00" height="5.99" fill="#3b528b"/>
<rect x="146.00" y="297.07" width="10.00" height="5.99" fill="#39568c"/>
<rect x="156.00" y="297.07" width="10.00" height="5.99" fill="#443983"/>
<rect x="166.00" y="297.07" width="10.00" height="5.99" fill="#443983"/>
<rect x="176.00" y="297.07" width="10.00" height="5.99" fill="#472f7d"/>
<rect x="186.00" y="297.07" width="10.00" height="5.99" fill="#443983"/>
<rect x="196.00" y="297.07" width="10.00" height="5.99" fill="#443983"/>
<rect x="206.00" y="297.07" width="10.00" height="5.99" fill="#414487"/>
<rect x="216.00" y="297.07" width="10.00" height="5.99" fill="#443983"/>
<rect x="226.00" y="297.07" width="10.00" height="5.99" fill="#3d4d8a"/>
<rect x="236.00" y="297.07" width="10.00" height="5.99" fill="#443983"/>
<rect x="246.00" y="297.07" width="10.00" height="5.99" fill="#355f8d"/>
<rect x="256.00" y="297.07" width="10.00" height="5.99" fill="#31688e"/>
<rect x="266.00" y="297.07" width="10.00" height="5.99" fill="#31688e"/>
<rect x="276.00" y="297.07" width="10.00" height="5.99" fill="#31688e"/>
<rect x="286.00" y="297.07" width="10.00" height="5.99" fill="#31688e"/>
<rect x="296.00" y="297.07" width="10.00" height="5.99" fill="#31688e"/>
<rect x="306.00" y="297.07" width="10.00" height="5.99" fill="#355f8d"/>
<rect x="316.00" y="297.07" width="10.00" height="5.99" fill="#31688e"/>
<rect x="326.00" y="297.07" width="10.00" height="5.99" fill="#3d4d8a"/>
<rect x="336.00" y="297.07" width="10.00" height="5.99" fill="#31688e"/>
<rect x="346.00" y="297.07" width="10.00" height="5.99" fill="#31688e"/>
<rect x="356.00" y="297.07" width="10.00" height="5.99" fill="#2a788e"/>
<rect x="366.00" y="297.07" width="10.00" height="5.99" fill="#355f8d"/>
<rect x="376.00" y="297.07" width="10.00" height="5.99" fill="#355f8d"/>
<rect x="386.00" y="297.07" width="10.00" height="5.99" fill="#31688e"/>
<rect x="396.00" y="297.07" width="10.00" height="5.99" fill="#2d708e"/>
<rect x="406.00" y="297.07" width="9.00" height="5.99" fill="#23888e"/>
<rect x="106.00" y="303.06" width="10.00" height="5.99" fill="#482979"/>
<rect x="116.00" y="303.06" width="10.00" height="5.99" fill="#470d60"/>
<rect x="126.00" y="303.06" width="10.00" height="5.99" fill="#443983"/>
<rect x="136.00" y="303.06" width="10.00" height="5.99" fill="#481a6c"/>
<rect x="146.00" y="303.06" width="10.00" height="5.99" fill="#482475"/>
<rect x="156.00" y="303.06" width="10.00" height="5.99" fill="#470d60"/>
<rect x="166.00" y="303.06" width="10.00" height="5.99" fill="#481a6c"/>
<rect x="176.00" y="303.06" width="10.00" height="5.99" fill="#46075a"/>
<rect x="186.00" y="303.06" width="10.00" height="5.99" fill="#481a6c"/>
<rect x="196.00" y="303.06" width="10.00" height="5.99" fill="#481a6c"/>
<rect x="206.00" y="303.06" width="10.00" height="5.99" fill="#482475"/>
<rect x="216.00" y="303.06" width="10.00" height="5.99" fill="#482475"/>
<rect x="226.00" y="303.06" width="10.00" height="5.99" fill="#443983"/>
<rect x="236.00" y="303.06" width="10.00" height="5.99" fill="#482475"/>
<rect x="246.00" y="303.06" width="10.00" height="5.99" fill="#414487"/>
<rect x="256.00" y="303.06" width="10.00" height="5.99" fill="#31688e"/>
<rect x="266.00" y="303.06" width="10.00" height="5.99" fill="#355f8d"/>
<rect x="276.00" y="303.06" width="10.00" height="5.99" fill="#355f8d"/>
<rect x="286.00" y="303.06" width="10.00" height="5.99" fill="#355f8d"/>
<rect x="296.00" y="303.06" width="10.00" height="5.99" fill="#355f8d"/>
<rect x="306.00" y="303.06" width="10.00" height="5.99" fill="#355f8d"/>
<rect x="316.00" y="303.06" width="10.00" height="5.99" fill="#355f8d"/>
<rect x="326.00" y="303.06" width="10.00" height="5.99" fill="#443983"/>
<rect x="336.00" y="303.06" width="10.00" height="5.99" fill="#355f8d"/>
<rect x="346.00" y="303.06" width="10.00" height="5.99" fill="#355f8d"/>
<rect x="356.00" y="303.06" width="10.00" height="5.99" fill="#2d708e"/>
<rect x="366.00" y="303.06" width="10.00" height="5.99" fill="#3d4d8a"/>
<rect x="376.00" y="303.06" width="10.00" height="5.99" fill="#39568c"/>
<rect x="386.00" y="303.06" width="10.00" height="5.99" fill="#355f8d"/>
<rect x="396.00" y="303.06" width="10.00" height="5.99" fill="#31688e"/>
<rect x="406.00" y="303.06" width="9.00" height="5.99" fill="#2a788e"/>
<rect x="256.00" y="309.06" width="10.00" height="5.99" fill="#481a6c"/>
<rect x="266.00" y="309.06" width="10.00" height="5.99" fill="#481a6c"/>
<rect x="276.00" y="309.06" width="10.00" height="5.99" fill="#470d60"/>
<rect x="296.00" y="309.06" width="10.00" height="5.99" fill="#470d60"/>
<rect x="336.00" y="309.06" width="10.00" height="5.99" fill="#481a6c"/>
<rect x="356.00" y="309.06" width="10.00" height="5.99" fill="#443983"/>
<rect x="366.00" y="309.06" width="10.00" height="5.99" fill="#470d60"/>
<rect x="376.00" y="309.06" width="10.00" height="5.99" fill="#46075a"/>
<rect x="386.00" y="309.06" width="10.00" height="5.99" fill="#481a6c"/>
<rect x="396.00" y="309.06" width="10.00" height="5.99" fill="#472f7d"/>
<rect x="406.00" y="309.06" width="9.00" height="5.99" fill="#3d4d8a"/>
<rect x="256.00" y="315.05" width="10.00" height="5.99" fill="#470d60"/>
<rect x="266.00" y="315.05" width="10.00" height="5.99" fill="#481a6c"/>
<rect x="286.00" y="315.05" width="10.00" height="5.99" fill="#470d60"/>
<rect x="336.00" y="315.05" width="10.00" height="5.99" fill="#481a6c"/>
<rect x="356.00" y="315.05" width="10.00" height="5.99" fill="#443983"/>
<rect x="366.00" y="315.05" width="10.00" height="5.99" fill="#481a6c"/>
<rect x="376.00" y="315.05" width="10.00" height="5.99" fill="#46075a"/>
<rect x="386.00" y="315.05" width="10.00" height="5.99" fill="#470d60"/>
<rect x="396.00" y="315.05" width="10.00" height="5.99" fill="#482475"/>
<rect x="406.00" y="315.05" width="9.00" height="5.99" fill="#443983"/>
<rect x="256.00" y="327.02" width="10.00" height="5.99" fill="#481a6c"/>
<rect x="266.00" y="327.02" width="10.00" height="5.99" fill="#481a6c"/>
<rect x="276.00" y="327.02" width="10.00" height="5.99" fill="#470d60"/>
<rect x="286.00" y="327.02" width="10.00" height="5.99" fill="#482475"/>
<rect x="296.00" y="327.02" width="10.00" height="5.99" fill="#482475"/>
<rect x="306.00" y="327.02" width="10.00" height="5.99" fill="#481a6c"/>
<rect x="316.00" y="327.02" width="10.00" height="5.99" fill="#470d60"/>
<rect x="326.00" y="327.02" width="10.00" height="5.99" fill="#470d60"/>
<rect x="336.00" y="327.02" width="10.00" height="5.99" fill="#481a6c"/>
<rect x="346.00" y="327.02" width="10.00" height="5.99" fill="#481a6c"/>
<rect x="356.00" y="327.02" width="10.00" height="5.99" fill="#443983"/>
<rect x="366.00" y="327.02" width="10.00" height="5.99" fill="#482475"/>
<rect x="376.00" y="327.02" width="10.00" height="5.99" fill="#46075a"/>
<rect x="386.00" y="327.02" width="10.00" height="5.99" fill="#481a6c"/>
<rect x="396.00" y="327.02" width="10.00" height="5.99" fill="#482475"/>
<rect x="406.00" y="327.02" width="9.00" height="5.99" fill="#472f7d"/>
<rect x="296.00" y="333.01" width="10.00" height="5.99" fill="#470d60"/>
<rect x="336.00" y="333.01" width="10.00" height="5.99" fill="#481a6c"/>
<rect x="346.00" y="333.01" width="10.00" height="5.99" fill="#470d60"/>
<rect x="356.00" y="333.01" width="10.00" height="5.99" fill="#472f7d"/>
<rect x="366.00" y="333.01" width="10.00" height="5.99" fill="#481a6c"/>
<rect x="376.00" y="333.01" width="10.00" height="5.99" fill="#46075a"/>
<rect x="386.00" y="333.01" width="10.00" height="5.99" fill="#481a6c"/>
<rect x="396.00" y="333.01" width="10.00" height="5.99" fill="#482475"/>
<rect x="406.00" y="333.01" width="9.00" height="5.99" fill="#472f7d"/>
<rect x="246.00" y="259.64" width="6.00" height="14.98" fill="#482475"/>
<rect x="252.00" y="259.64" width="4.00" height="14.98" fill="#414487"/>
<rect x="246.00" y="274.61" width="6.00" height="10.48" fill="#2a788e"/>
<rect x="252.00" y="274.61" width="4.00" height="10.48" fill="#1fa188"/>
<rect x="246.00" y="285.10" width="6.00" height="5.99" fill="#482475"/>
<rect x="252.00" y="285.10" width="4.00" height="5.99" fill="#3d4d8a"/>
<rect x="246.00" y="291.08" width="6.00" height="5.99" fill="#27808e"/>
<rect x="252.00" y="291.08" width="4.00" height="5.99" fill="#2ab07f"/>
<rect x="246.00" y="297.07" width="6.00" height="5.99" fill="#443983"/>
<rect x="252.00" y="297.07" width="4.00" height="5.99" fill="#31688e"/>
<rect x="246.00" y="303.06" width="6.00" height="5.99" fill="#472f7d"/>
<rect x="252.00" y="303.06" width="4.00" height="5.99" fill="#355f8d"/>
</g>
<line x1="39.50" y1="312.05" x2="426.00" y2="312.05" stroke="#b0b0b0" stroke-width="0.80" />
<line x1="39.50" y1="282.10" x2="426.00" y2="282.10" stroke="#b0b0b0" stroke-width="0.80" />
<line x1="39.50" y1="252.15" x2="426.00" y2="252.15" stroke="#b0b0b0" stroke-width="0.80" />
<line x1="39.50" y1="222.20" x2="426.00" y2="222.20" stroke="#b0b0b0" stroke-width="0.80" />
<line x1="39.50" y1="192.25" x2="426.00" y2="192.25" stroke="#b0b0b0" stroke-width="0.80" />
<line x1="116.80" y1="162.30" x2="116.80" y2="342.00" stroke="#b0b0b0" stroke-width="0.80" />
<line x1="194.10" y1="162.30" x2="194.10" y2="342.00" stroke="#b0b0b0" stroke-width="0.80" />
<line x1="271.40" y1="162.30" x2="271.40" y2="342.00" stroke="#b0b0b0" stroke-width="0.80" />
<line x1="348.70" y1="162.30" x2="348.70" y2="342.00" stroke="#b0b0b0" stroke-width="0.80" />
<rect x="39.50" y="162.30" width="386.50" height="179.70" fill="none" stroke="#000" stroke-width="0.8"/>
<line x1="36.00" y1="342.00" x2="39.50" y2="342.00" stroke="#000" stroke-width="0.80" />
<text x="32.90" y="345.45" font-size="9.78" text-anchor="end" textLength="14.95" lengthAdjust="spacingAndGlyphs" fill="#000" >0.0</text>
<line x1="36.00" y1="312.05" x2="39.50" y2="312.05" stroke="#000" stroke-width="0.80" />
<text x="32.90" y="315.50" font-size="9.78" text-anchor="end" textLength="14.95" lengthAdjust="spacingAndGlyphs" fill="#000" >0.5</text>
<line x1="36.00" y1="282.10" x2="39.50" y2="282.10" stroke="#000" stroke-width="0.80" />
<text x="32.90" y="285.55" font-size="9.78" text-anchor="end" textLength="14.95" lengthAdjust="spacingAndGlyphs" fill="#000" >1.0</text>
<line x1="36.00" y1="252.15" x2="39.50" y2="252.15" stroke="#000" stroke-width="0.80" />
<text x="32.90" y="255.60" font-size="9.78" text-anchor="end" textLength="14.95" lengthAdjust="spacingAndGlyphs" fill="#000" >1.5</text>
<line x1="36.00" y1="222.20" x2="39.50" y2="222.20" stroke="#000" stroke-width="0.80" />
<text x="32.90" y="225.65" font-size="9.78" text-anchor="end" textLength="14.95" lengthAdjust="spacingAndGlyphs" fill="#000" >2.0</text>
<line x1="36.00" y1="192.25" x2="39.50" y2="192.25" stroke="#000" stroke-width="0.80" />
<text x="32.90" y="195.70" font-size="9.78" text-anchor="end" textLength="14.95" lengthAdjust="spacingAndGlyphs" fill="#000" >2.5</text>
<line x1="36.00" y1="162.30" x2="39.50" y2="162.30" stroke="#000" stroke-width="0.80" />
<text x="32.90" y="165.75" font-size="9.78" text-anchor="end" textLength="14.95" lengthAdjust="spacingAndGlyphs" fill="#000" >3.0</text>
<line x1="39.50" y1="342.00" x2="39.50" y2="345.50" stroke="#000" stroke-width="0.80" />
<text x="39.50" y="355.50" font-size="9.78" text-anchor="middle" textLength="20.93" lengthAdjust="spacingAndGlyphs" fill="#000" >23.0</text>
<line x1="116.80" y1="342.00" x2="116.80" y2="345.50" stroke="#000" stroke-width="0.80" />
<text x="116.80" y="355.50" font-size="9.78" text-anchor="middle" textLength="20.93" lengthAdjust="spacingAndGlyphs" fill="#000" >23.2</text>
<line x1="194.10" y1="342.00" x2="194.10" y2="345.50" stroke="#000" stroke-width="0.80" />
<text x="194.10" y="355.50" font-size="9.78" text-anchor="middle" textLength="20.93" lengthAdjust="spacingAndGlyphs" fill="#000" >23.4</text>
<line x1="271.40" y1="342.00" x2="271.40" y2="345.50" stroke="#000" stroke-width="0.80" />
<text x="271.40" y="355.50" font-size="9.78" text-anchor="middle" textLength="20.93" lengthAdjust="spacingAndGlyphs" fill="#000" >23.6</text>
<line x1="348.70" y1="342.00" x2="348.70" y2="345.50" stroke="#000" stroke-width="0.80" />
<text x="348.70" y="355.50" font-size="9.78" text-anchor="middle" textLength="20.93" lengthAdjust="spacingAndGlyphs" fill="#000" >23.8</text>
<line x1="426.00" y1="342.00" x2="426.00" y2="345.50" stroke="#000" stroke-width="0.80" />
<text x="426.00" y="355.50" font-size="9.78" text-anchor="middle" textLength="20.93" lengthAdjust="spacingAndGlyphs" fill="#000" >24.0</text>
<text x="12.40" y="252.40" font-size="9.78" text-anchor="middle" textLength="56.00" lengthAdjust="spacingAndGlyphs" transform="rotate(-90 12.40 252.40)" fill="#000" >Height (km)</text>
<text x="232.35" y="368.70" font-size="9.78" text-anchor="middle" textLength="51.96" lengthAdjust="spacingAndGlyphs" fill="#000" >Time (UTC)</text>
<text x="232.65" y="156.80" font-size="11.65" text-anchor="middle" textLength="118.55" lengthAdjust="spacingAndGlyphs" fill="#000" >Liquid Water Content</text>
<text x="5.6" y="154.1" font-size="13.8" textLength="15.89" lengthAdjust="spacingAndGlyphs">(b)</text>
<defs><linearGradient id="vir" x1="0" y1="1" x2="0" y2="0"><stop offset="0.000" stop-color="#440154"/><stop offset="0.031" stop-color="#470d60"/><stop offset="0.062" stop-color="#48186a"/><stop offset="0.094" stop-color="#482374"/><stop offset="0.125" stop-color="#472d7b"/><stop offset="0.156" stop-color="#453781"/><stop offset="0.188" stop-color="#424086"/><stop offset="0.219" stop-color="#3e4989"/><stop offset="0.250" stop-color="#3b528b"/><stop offset="0.281" stop-color="#375b8d"/><stop offset="0.312" stop-color="#33638d"/><stop offset="0.344" stop-color="#2f6b8e"/><stop offset="0.375" stop-color="#2c728e"/><stop offset="0.406" stop-color="#297a8e"/><stop offset="0.438" stop-color="#26828e"/><stop offset="0.469" stop-color="#23898e"/><stop offset="0.500" stop-color="#21918c"/><stop offset="0.531" stop-color="#1f988b"/><stop offset="0.562" stop-color="#1fa088"/><stop offset="0.594" stop-color="#22a785"/><stop offset="0.625" stop-color="#28ae80"/><stop offset="0.656" stop-color="#32b67a"/><stop offset="0.688" stop-color="#3fbc73"/><stop offset="0.719" stop-color="#4ec36b"/><stop offset="0.750" stop-color="#5ec962"/><stop offset="0.781" stop-color="#70cf57"/><stop offset="0.812" stop-color="#84d44b"/><stop offset="0.844" stop-color="#98d83e"/><stop offset="0.875" stop-color="#addc30"/><stop offset="0.906" stop-color="#c2df23"/><stop offset="0.938" stop-color="#d8e219"/><stop offset="0.969" stop-color="#eae51a"/><stop offset="1.000" stop-color="#fde725"/></linearGradient></defs>
<rect x="436.30" y="162.20" width="19.20" height="179.80" fill="url(#vir)" stroke="#000" stroke-width="0.8"/>
<line x1="455.50" y1="342.00" x2="459.00" y2="342.00" stroke="#000" stroke-width="0.80" />
<text x="461.40" y="345.45" font-size="9.78" text-anchor="start" textLength="20.93" lengthAdjust="spacingAndGlyphs" fill="#000" >0.00</text>
<line x1="455.50" y1="312.03" x2="459.00" y2="312.03" stroke="#000" stroke-width="0.80" />
<text x="461.40" y="315.48" font-size="9.78" text-anchor="start" textLength="20.93" lengthAdjust="spacingAndGlyphs" fill="#000" >0.05</text>
<line x1="455.50" y1="282.07" x2="459.00" y2="282.07" stroke="#000" stroke-width="0.80" />
<text x="461.40" y="285.52" font-size="9.78" text-anchor="start" textLength="20.93" lengthAdjust="spacingAndGlyphs" fill="#000" >0.10</text>
<line x1="455.50" y1="252.10" x2="459.00" y2="252.10" stroke="#000" stroke-width="0.80" />
<text x="461.40" y="255.55" font-size="9.78" text-anchor="start" textLength="20.93" lengthAdjust="spacingAndGlyphs" fill="#000" >0.15</text>
<line x1="455.50" y1="222.13" x2="459.00" y2="222.13" stroke="#000" stroke-width="0.80" />
<text x="461.40" y="225.58" font-size="9.78" text-anchor="start" textLength="20.93" lengthAdjust="spacingAndGlyphs" fill="#000" >0.20</text>
<line x1="455.50" y1="192.17" x2="459.00" y2="192.17" stroke="#000" stroke-width="0.80" />
<text x="461.40" y="195.62" font-size="9.78" text-anchor="start" textLength="20.93" lengthAdjust="spacingAndGlyphs" fill="#000" >0.25</text>
<line x1="455.50" y1="162.20" x2="459.00" y2="162.20" stroke="#000" stroke-width="0.80" />
<text x="461.40" y="165.65" font-size="9.78" text-anchor="start" textLength="20.93" lengthAdjust="spacingAndGlyphs" fill="#000" >0.30</text>
<text x="493.70" y="252.00" font-size="9.78" text-anchor="middle" textLength="52.61" lengthAdjust="spacingAndGlyphs" transform="rotate(-90 493.70 252.00)" fill="#000" >LWC (g/m³)</text>
<line x1="135.78" y1="413.50" x2="135.78" y2="620.40" stroke="#b0b0b0" stroke-width="0.80" />
<line x1="220.56" y1="413.50" x2="220.56" y2="620.40" stroke="#b0b0b0" stroke-width="0.80" />
<line x1="305.34" y1="413.50" x2="305.34" y2="620.40" stroke="#b0b0b0" stroke-width="0.80" />
<line x1="390.12" y1="413.50" x2="390.12" y2="620.40" stroke="#b0b0b0" stroke-width="0.80" />
<line x1="474.90" y1="413.50" x2="474.90" y2="620.40" stroke="#b0b0b0" stroke-width="0.80" />
<line x1="51.00" y1="579.02" x2="474.90" y2="579.02" stroke="#b0b0b0" stroke-width="0.80" />
<line x1="51.00" y1="537.64" x2="474.90" y2="537.64" stroke="#b0b0b0" stroke-width="0.80" />
<line x1="51.00" y1="496.26" x2="474.90" y2="496.26" stroke="#b0b0b0" stroke-width="0.80" />
<line x1="51.00" y1="454.88" x2="474.90" y2="454.88" stroke="#b0b0b0" stroke-width="0.80" />
<line x1="51.00" y1="413.50" x2="474.90" y2="413.50" stroke="#b0b0b0" stroke-width="0.80" />
<line x1="51.00" y1="413.50" x2="51.00" y2="620.40" stroke="#b0b0b0" stroke-width="0.80" />
<polyline fill="none" stroke="#000" stroke-width="1.5" stroke-linejoin="round" points="59.48,620.40 76.43,620.40 93.39,620.40 110.35,537.64 127.30,566.19 144.26,571.36 161.21,620.40 474.90,620.40"/>
<rect x="51.00" y="413.50" width="423.90" height="206.90" fill="none" stroke="#000" stroke-width="0.8"/>
<line x1="47.50" y1="620.40" x2="51.00" y2="620.40" stroke="#000" stroke-width="0.80" />
<text x="43.80" y="624.00" font-size="10.19" text-anchor="end" textLength="6.24" lengthAdjust="spacingAndGlyphs" fill="#000" >0</text>
<line x1="47.50" y1="579.02" x2="51.00" y2="579.02" stroke="#000" stroke-width="0.80" />
<text x="43.80" y="582.62" font-size="10.19" text-anchor="end" textLength="18.71" lengthAdjust="spacingAndGlyphs" fill="#000" >200</text>
<line x1="47.50" y1="537.64" x2="51.00" y2="537.64" stroke="#000" stroke-width="0.80" />
<text x="43.80" y="541.24" font-size="10.19" text-anchor="end" textLength="18.71" lengthAdjust="spacingAndGlyphs" fill="#000" >400</text>
<line x1="47.50" y1="496.26" x2="51.00" y2="496.26" stroke="#000" stroke-width="0.80" />
<text x="43.80" y="499.86" font-size="10.19" text-anchor="end" textLength="18.71" lengthAdjust="spacingAndGlyphs" fill="#000" >600</text>
<line x1="47.50" y1="454.88" x2="51.00" y2="454.88" stroke="#000" stroke-width="0.80" />
<text x="43.80" y="458.48" font-size="10.19" text-anchor="end" textLength="18.71" lengthAdjust="spacingAndGlyphs" fill="#000" >800</text>
<line x1="47.50" y1="413.50" x2="51.00" y2="413.50" stroke="#000" stroke-width="0.80" />
<text x="43.80" y="417.10" font-size="10.19" text-anchor="end" textLength="24.94" lengthAdjust="spacingAndGlyphs" fill="#000" >1000</text>
<line x1="51.00" y1="620.40" x2="51.00" y2="623.90" stroke="#000" stroke-width="0.80" />
<text x="51.00" y="635.00" font-size="10.19" text-anchor="middle" textLength="6.24" lengthAdjust="spacingAndGlyphs" fill="#000" >0</text>
<line x1="135.78" y1="620.40" x2="135.78" y2="623.90" stroke="#000" stroke-width="0.80" />
<text x="135.78" y="635.00" font-size="10.19" text-anchor="middle" textLength="6.24" lengthAdjust="spacingAndGlyphs" fill="#000" >1</text>
<line x1="220.56" y1="620.40" x2="220.56" y2="623.90" stroke="#000" stroke-width="0.80" />
<text x="220.56" y="635.00" font-size="10.19" text-anchor="middle" textLength="6.24" lengthAdjust="spacingAndGlyphs" fill="#000" >2</text>
<line x1="305.34" y1="620.40" x2="305.34" y2="623.90" stroke="#000" stroke-width="0.80" />
<text x="305.34" y="635.00" font-size="10.19" text-anchor="middle" textLength="6.24" lengthAdjust="spacingAndGlyphs" fill="#000" >3</text>
<line x1="390.12" y1="620.40" x2="390.12" y2="623.90" stroke="#000" stroke-width="0.80" />
<text x="390.12" y="635.00" font-size="10.19" text-anchor="middle" textLength="6.24" lengthAdjust="spacingAndGlyphs" fill="#000" >4</text>
<line x1="474.90" y1="620.40" x2="474.90" y2="623.90" stroke="#000" stroke-width="0.80" />
<text x="474.90" y="635.00" font-size="10.19" text-anchor="middle" textLength="6.24" lengthAdjust="spacingAndGlyphs" fill="#000" >5</text>
<text x="12.70" y="516.60" font-size="10.19" text-anchor="middle" textLength="120.05" lengthAdjust="spacingAndGlyphs" transform="rotate(-90 12.70 516.60)" fill="#000" >Average Density [kg/m³]</text>
<text x="262.65" y="647.90" font-size="10.19" text-anchor="middle" textLength="75.61" lengthAdjust="spacingAndGlyphs" fill="#000" >Diameter [mm]</text>
<text x="260.40" y="393.60" font-size="12.22" text-anchor="middle" textLength="174.70" lengthAdjust="spacingAndGlyphs" fill="#000" >23-00 UTC 3 September 2020</text>
<text x="264.40" y="406.90" font-size="12.22" text-anchor="middle" textLength="288.69" lengthAdjust="spacingAndGlyphs" fill="#000" >Distribution of Hydrometeor Density vs Diameter</text>
<text x="12.2" y="395.6" font-size="14.3" textLength="15.74" lengthAdjust="spacingAndGlyphs">(c)</text></svg>
</body></html>
